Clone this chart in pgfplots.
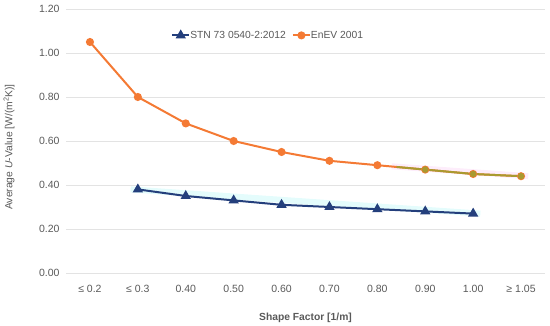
\documentclass[border=0pt]{standalone}
\usepackage{fontspec}
\setmainfont{Liberation Sans}
\usepackage{pgfplots}
\pgfplotsset{compat=1.18}
\definecolor{gtext}{HTML}{595959}
\definecolor{gridc}{HTML}{E3E3E3}
\definecolor{stn}{HTML}{243F7C}
\definecolor{enev}{HTML}{F47A34}
\definecolor{olive}{HTML}{A99A30}
\definecolor{glow}{HTML}{E4FCFC}
\definecolor{pglow}{HTML}{FDEDFB}
\begin{document}
\begin{tikzpicture}
\begin{axis}[
  at={(0,0)}, anchor=south west,
  scale only axis, width=479pt, height=264pt,
  xmin=-0.5, xmax=9.5, ymin=0, ymax=1.2,
  axis line style={draw=none},
  major tick length=0pt,
  xtick={0,...,9},
  xticklabels={≤ 0.2,≤ 0.3,0.40,0.50,0.60,0.70,0.80,0.90,1.00,≥ 1.05},
  ytick={0,0.2,...,1.2},
  yticklabel style={/pgf/number format/fixed, /pgf/number format/fixed zerofill, /pgf/number format/precision=2, xshift=-3pt},
  /pgf/number format/assume math mode=true,
  ymajorgrids, grid style={gridc, line width=0.8pt},
  tick label style={font=\fontsize{10.5}{12}\selectfont, text=gtext},
  xticklabel style={yshift=-9pt},
  xlabel={\textbf{Shape Factor [1/m]}},
  ylabel={Average \textit{U}-Value [W/(m\textsuperscript{2}K)]},
  label style={font=\fontsize{10.3}{12}\selectfont, text=gtext},
  xlabel style={at={(axis description cs:0.5,0)}, anchor=center, yshift=-45pt},
  ylabel style={at={([xshift=-57pt,yshift=-6pt]axis description cs:0,0.5)}, anchor=center},
  legend style={draw=none, fill=none, at={(0.422,0.90)}, anchor=center,
    font=\fontsize{10.3}{12}\selectfont, text=gtext, legend columns=2,
    /tikz/every even column/.append style={column sep=4pt},
    /tikz/every odd column/.append style={column sep=-2pt}},
  legend cell align=left,
  legend image code/.code={
    \draw[#1, mark repeat=2, mark phase=2] plot coordinates {(0cm,0cm) (0.3cm,0cm) (0.6cm,0cm)};},
]
\addplot[glow, line width=6pt, forget plot] coordinates {(0.85,0.38) (8.15,0.27)};
\addplot[pglow, line width=6pt, forget plot] coordinates {(6.3,0.485) (9.15,0.44)};
\addplot[stn, line width=2pt, mark=triangle*, mark size=4pt, mark options={fill=stn, draw=stn}] coordinates {
(1,0.38) (2,0.35) (3,0.33) (4,0.31) (5,0.30) (6,0.29) (7,0.28) (8,0.27)};
\addlegendentry{STN 73 0540-2:2012}
\addplot[enev, line width=2pt, mark=*, mark size=3pt, mark options={fill=enev, draw=enev}] coordinates {
(0,1.05) (1,0.80) (2,0.68) (3,0.60) (4,0.55) (5,0.51) (6,0.49) (7,0.47) (8,0.45) (9,0.44)};
\addlegendentry{EnEV 2001}
\addplot[olive, line width=2pt, forget plot] coordinates {(6.4,0.482) (7,0.47) (8,0.45) (9,0.44)};
\addplot[olive, only marks, mark=*, mark size=3pt, forget plot] coordinates {(7,0.47) (8,0.45) (9,0.44)};
\end{axis}
\pgfresetboundingbox
\path (-66pt,-53pt) rectangle (484pt,273pt);
\end{tikzpicture}
\end{document}
